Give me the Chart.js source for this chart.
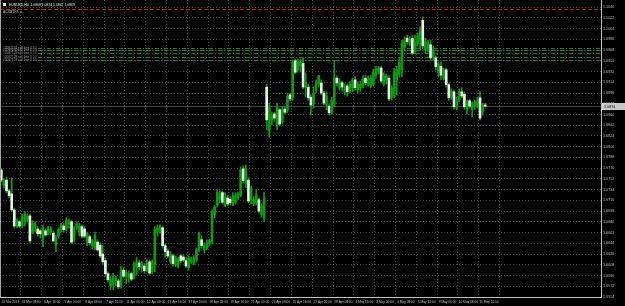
<!DOCTYPE html>
<html>
<head>
<meta charset="utf-8">
<script src="https://cdn.jsdelivr.net/npm/chart.js@4.4.0/dist/chart.umd.min.js"></script>
<style>
html, body { margin: 0; padding: 0; background: #000; }
#wrap { width: 625px; height: 306px; }
</style>
</head>
<body>
<div id="wrap"><canvas id="chart" width="625" height="306"></canvas></div>
<script>
// ==================== EURUSD H4 CANDLES ====================

const symbolTitle = 'EURUSD,H4  1.0868 1.0874 1.0862 1.0869';
const expertName = 'ACSBTF8 \u263A';

const timeLabels = ['28 Mar 2017', '31 Mar 08:00', '3 Apr 16:00', '5 Apr 00:00', '6 Apr 08:00', '7 Apr 16:00',
    '11 Apr 00:00', '12 Apr 08:00', '13 Apr 16:00', '17 Apr 00:00', '18 Apr 08:00', '19 Apr 16:00',
    '21 Apr 00:00', '24 Apr 08:00', '25 Apr 16:00', '27 Apr 00:00', '28 Apr 08:00', '1 May 16:00',
    '3 May 00:00', '4 May 08:00', '5 May 16:00', '9 May 00:00', '10 May 08:00', '11 May 16:00'];

const priceTicks = [1.1040, 1.1022, 1.1004, 1.0986, 1.0968, 1.0950, 1.0932, 1.0914, 1.0896, 1.0878,
    1.0860, 1.0842, 1.0824, 1.0806, 1.0788, 1.0770, 1.0752, 1.0734, 1.0716, 1.0698,
    1.0680, 1.0662, 1.0644, 1.0626, 1.0608, 1.0590, 1.0572, 1.0554];

const openPrices = [
    1.0767, 1.0740, 1.0750, 1.0732, 1.0727, 1.0700, 1.0673, 1.0680, 1.0673, 1.0680,
    1.0683, 1.0690, 1.0663, 1.0670, 1.0668, 1.0665, 1.0650, 1.0665, 1.0660, 1.0663,
    1.0661, 1.0641, 1.0656, 1.0667, 1.0673, 1.0668, 1.0677, 1.0680, 1.0650, 1.0670,
    1.0663, 1.0672, 1.0668, 1.0645, 1.0655, 1.0640, 1.0636, 1.0646, 1.0641, 1.0626,
    1.0615, 1.0593, 1.0573, 1.0574, 1.0579, 1.0581, 1.0573, 1.0599, 1.0588, 1.0586,
    1.0593, 1.0589, 1.0603, 1.0611, 1.0603, 1.0606, 1.0599, 1.0613, 1.0596, 1.0608,
    1.0663, 1.0667, 1.0670, 1.0640, 1.0631, 1.0613, 1.0623, 1.0608, 1.0606, 1.0623,
    1.0621, 1.0615, 1.0603, 1.0613, 1.0611, 1.0616, 1.0633, 1.0650, 1.0633, 1.0636,
    1.0643, 1.0646, 1.0692, 1.0708, 1.0717, 1.0729, 1.0708, 1.0720, 1.0718, 1.0710,
    1.0713, 1.0720, 1.0725, 1.0769, 1.0744, 1.0750, 1.0717, 1.0710, 1.0712, 1.0717,
    1.0692, 1.0687, 1.0906, 1.0834, 1.0851, 1.0861, 1.0843, 1.0868, 1.0848, 1.0869,
    1.0868, 1.0893, 1.0888, 1.0950, 1.0935, 1.0941, 1.0946, 1.0905, 1.0906, 1.0889,
    1.0878, 1.0901, 1.0911, 1.0913, 1.0896, 1.0876, 1.0874, 1.0864, 1.0878, 1.0921,
    1.0905, 1.0913, 1.0898, 1.0908, 1.0899, 1.0905, 1.0918, 1.0901, 1.0905, 1.0908,
    1.0921, 1.0911, 1.0908, 1.0911, 1.0926, 1.0931, 1.0938, 1.0911, 1.0918, 1.0921,
    1.0888, 1.0891, 1.0918, 1.0928, 1.0935, 1.0972, 1.0988, 1.0978, 1.0988, 1.0968,
    1.0978, 1.0985, 1.1018, 1.0968, 1.0972, 1.0977, 1.0956, 1.0955, 1.0931, 1.0941,
    1.0921, 1.0935, 1.0910, 1.0889, 1.0898, 1.0871, 1.0884, 1.0898, 1.0894, 1.0868,
    1.0883, 1.0868, 1.0874, 1.0876, 1.0888, 1.0864, 1.0876
];

const highPrices = [
    1.0770, 1.0752, 1.0755, 1.0735, 1.0754, 1.0703, 1.0685, 1.0683, 1.0693, 1.0698,
    1.0693, 1.0693, 1.0682, 1.0680, 1.0672, 1.0668, 1.0675, 1.0668, 1.0673, 1.0672,
    1.0665, 1.0658, 1.0670, 1.0678, 1.0677, 1.0687, 1.0685, 1.0683, 1.0673, 1.0680,
    1.0678, 1.0675, 1.0672, 1.0663, 1.0658, 1.0651, 1.0663, 1.0650, 1.0645, 1.0640,
    1.0620, 1.0596, 1.0589, 1.0594, 1.0589, 1.0584, 1.0605, 1.0603, 1.0599, 1.0598,
    1.0596, 1.0613, 1.0621, 1.0616, 1.0613, 1.0610, 1.0616, 1.0616, 1.0616, 1.0672,
    1.0675, 1.0675, 1.0673, 1.0643, 1.0635, 1.0630, 1.0626, 1.0623, 1.0621, 1.0626,
    1.0625, 1.0620, 1.0623, 1.0621, 1.0623, 1.0636, 1.0663, 1.0656, 1.0645, 1.0650,
    1.0651, 1.0700, 1.0708, 1.0734, 1.0732, 1.0732, 1.0729, 1.0724, 1.0722, 1.0729,
    1.0729, 1.0730, 1.0772, 1.0774, 1.0775, 1.0754, 1.0740, 1.0722, 1.0734, 1.0720,
    1.0710, 1.0729, 1.0911, 1.0879, 1.0864, 1.0864, 1.0879, 1.0871, 1.0874, 1.0874,
    1.0896, 1.0896, 1.0951, 1.0953, 1.0953, 1.0953, 1.0955, 1.0930, 1.0911, 1.0893,
    1.0906, 1.0918, 1.0926, 1.0918, 1.0899, 1.0898, 1.0878, 1.0889, 1.0951, 1.0925,
    1.0920, 1.0916, 1.0911, 1.0911, 1.0915, 1.0921, 1.0923, 1.0915, 1.0916, 1.0925,
    1.0926, 1.0925, 1.0926, 1.0936, 1.0941, 1.0941, 1.0941, 1.0930, 1.0928, 1.0925,
    1.0908, 1.0938, 1.0941, 1.0955, 1.0985, 1.0990, 1.0993, 1.0990, 1.0992, 1.0993,
    1.0997, 1.1007, 1.1024, 1.0988, 1.0985, 1.0985, 1.0975, 1.0958, 1.0948, 1.0948,
    1.0938, 1.0938, 1.0913, 1.0903, 1.0901, 1.0889, 1.0903, 1.0905, 1.0898, 1.0884,
    1.0886, 1.0881, 1.0884, 1.0889, 1.0898, 1.0879, 1.0879
];

const lowPrices = [
    1.0747, 1.0737, 1.0729, 1.0720, 1.0697, 1.0670, 1.0670, 1.0670, 1.0670, 1.0673,
    1.0680, 1.0645, 1.0660, 1.0663, 1.0656, 1.0653, 1.0638, 1.0656, 1.0658, 1.0658,
    1.0646, 1.0630, 1.0653, 1.0663, 1.0663, 1.0665, 1.0670, 1.0643, 1.0646, 1.0667,
    1.0656, 1.0653, 1.0653, 1.0640, 1.0641, 1.0635, 1.0633, 1.0631, 1.0620, 1.0608,
    1.0589, 1.0579, 1.0566, 1.0566, 1.0573, 1.0568, 1.0569, 1.0586, 1.0576, 1.0579,
    1.0581, 1.0584, 1.0591, 1.0599, 1.0596, 1.0594, 1.0596, 1.0591, 1.0593, 1.0596,
    1.0656, 1.0661, 1.0636, 1.0621, 1.0620, 1.0610, 1.0606, 1.0605, 1.0603, 1.0611,
    1.0613, 1.0603, 1.0599, 1.0610, 1.0608, 1.0613, 1.0630, 1.0636, 1.0628, 1.0633,
    1.0640, 1.0643, 1.0687, 1.0705, 1.0712, 1.0710, 1.0705, 1.0707, 1.0708, 1.0707,
    1.0710, 1.0717, 1.0722, 1.0745, 1.0737, 1.0712, 1.0710, 1.0707, 1.0708, 1.0695,
    1.0688, 1.0680, 1.0834, 1.0822, 1.0843, 1.0849, 1.0834, 1.0841, 1.0844, 1.0861,
    1.0863, 1.0883, 1.0884, 1.0928, 1.0931, 1.0931, 1.0903, 1.0889, 1.0884, 1.0859,
    1.0871, 1.0896, 1.0906, 1.0893, 1.0876, 1.0868, 1.0859, 1.0861, 1.0873, 1.0908,
    1.0901, 1.0899, 1.0893, 1.0891, 1.0896, 1.0898, 1.0901, 1.0896, 1.0899, 1.0905,
    1.0910, 1.0908, 1.0905, 1.0908, 1.0921, 1.0928, 1.0913, 1.0908, 1.0911, 1.0883,
    1.0884, 1.0888, 1.0893, 1.0923, 1.0923, 1.0968, 1.0978, 1.0975, 1.0960, 1.0962,
    1.0975, 1.0968, 1.0972, 1.0963, 1.0965, 1.0951, 1.0951, 1.0935, 1.0923, 1.0918,
    1.0918, 1.0906, 1.0884, 1.0886, 1.0869, 1.0868, 1.0881, 1.0888, 1.0869, 1.0861,
    1.0871, 1.0856, 1.0869, 1.0871, 1.0851, 1.0859, 1.0873
];

const closePrices = [
    1.0750, 1.0749, 1.0732, 1.0724, 1.0700, 1.0673, 1.0682, 1.0673, 1.0688, 1.0693,
    1.0690, 1.0648, 1.0677, 1.0677, 1.0660, 1.0660, 1.0670, 1.0658, 1.0670, 1.0668,
    1.0648, 1.0653, 1.0667, 1.0675, 1.0667, 1.0683, 1.0682, 1.0646, 1.0670, 1.0677,
    1.0673, 1.0656, 1.0656, 1.0660, 1.0645, 1.0648, 1.0658, 1.0633, 1.0623, 1.0613,
    1.0593, 1.0583, 1.0584, 1.0589, 1.0586, 1.0571, 1.0599, 1.0589, 1.0596, 1.0593,
    1.0584, 1.0608, 1.0613, 1.0605, 1.0610, 1.0598, 1.0611, 1.0594, 1.0613, 1.0667,
    1.0670, 1.0672, 1.0640, 1.0630, 1.0623, 1.0626, 1.0610, 1.0620, 1.0618, 1.0615,
    1.0616, 1.0606, 1.0620, 1.0618, 1.0620, 1.0633, 1.0660, 1.0640, 1.0641, 1.0645,
    1.0648, 1.0697, 1.0705, 1.0730, 1.0727, 1.0713, 1.0722, 1.0710, 1.0712, 1.0724,
    1.0724, 1.0727, 1.0767, 1.0749, 1.0770, 1.0715, 1.0737, 1.0718, 1.0725, 1.0698,
    1.0707, 1.0720, 1.0851, 1.0871, 1.0859, 1.0854, 1.0874, 1.0844, 1.0868, 1.0864,
    1.0891, 1.0886, 1.0948, 1.0931, 1.0948, 1.0948, 1.0906, 1.0915, 1.0888, 1.0876,
    1.0896, 1.0915, 1.0925, 1.0896, 1.0879, 1.0891, 1.0863, 1.0884, 1.0921, 1.0913,
    1.0915, 1.0906, 1.0908, 1.0898, 1.0911, 1.0918, 1.0905, 1.0911, 1.0911, 1.0920,
    1.0913, 1.0920, 1.0921, 1.0931, 1.0938, 1.0938, 1.0916, 1.0926, 1.0925, 1.0886,
    1.0905, 1.0931, 1.0935, 1.0948, 1.0980, 1.0985, 1.0982, 1.0987, 1.0963, 1.0982,
    1.0992, 1.1002, 1.0975, 1.0982, 1.0982, 1.0955, 1.0968, 1.0940, 1.0945, 1.0926,
    1.0935, 1.0910, 1.0888, 1.0899, 1.0873, 1.0883, 1.0899, 1.0891, 1.0873, 1.0881,
    1.0874, 1.0878, 1.0881, 1.0883, 1.0854, 1.0876, 1.0874
];

// pending orders drawn as dashed green levels, take profit level in red
const orderPrices = [1.0972, 1.0968, 1.0963, 1.0957, 1.0951];
const orderLabels = ['#2087531 sell limit 0.10', '#2087530 sell limit 0.10', '#2087529 sell limit 0.10',
    '#2087528 sell limit 0.10', '#2087527 sell limit 0.10'];
const tpPrice = 1.1037;

const totalSlots = 231;   // visible bar slots incl. chart shift on the right
const bidPrice = closePrices[closePrices.length - 1];

const GREEN = '#0f9a0f';
const BEAR_BODY = '#e4fbe4';
const GRID = '#34443f';
const AXIS_TEXT = '#bdbdbd';
const FONT = 'Liberation Sans, Arial, sans-serif';

const wickData = openPrices.map((o, i) => ({ x: i, y: [lowPrices[i], highPrices[i]] }));
const bodyData = openPrices.map((o, i) => ({ x: i, y: [o, closePrices[i]] }));
const bodyColors = openPrices.map((o, i) => closePrices[i] < o ? BEAR_BODY : GREEN);

// no label overhang padding: the plot fills the window like the terminal does
const noPadding = scale => {
    scale.paddingTop = 0;
    scale.paddingBottom = 0;
    scale.paddingLeft = 0;
    scale.paddingRight = 0;
};

const terminalPlugin = {
    id: 'terminal',
    beforeDraw(chart) {
        const ctx = chart.ctx;
        ctx.save();
        ctx.fillStyle = '#000';
        ctx.fillRect(0, 0, chart.width, chart.height);
        ctx.restore();
    },
    beforeDatasetsDraw(chart) {
        const ctx = chart.ctx;
        const ya = chart.scales.y;
        const area = chart.chartArea;
        ctx.save();

        // bid line
        let y = Math.round(ya.getPixelForValue(bidPrice)) + 0.5;
        ctx.strokeStyle = '#3a4848';
        ctx.lineWidth = 1;
        ctx.beginPath();
        ctx.moveTo(area.left, y);
        ctx.lineTo(area.right, y);
        ctx.stroke();

        // take profit
        y = Math.round(ya.getPixelForValue(tpPrice)) + 0.5;
        ctx.strokeStyle = '#b02020';
        ctx.setLineDash([4, 2]);
        ctx.beginPath();
        ctx.moveTo(area.left, y);
        ctx.lineTo(area.right, y);
        ctx.stroke();

        // pending orders
        ctx.strokeStyle = '#0c8a0c';
        ctx.setLineDash([4, 2, 1, 2]);
        orderPrices.forEach(p => {
            const yy = Math.round(ya.getPixelForValue(p)) + 0.5;
            ctx.beginPath();
            ctx.moveTo(area.left + 38, yy);
            ctx.lineTo(area.right, yy);
            ctx.stroke();
        });
        ctx.restore();
    },
    afterDraw(chart) {
        const ctx = chart.ctx;
        const ya = chart.scales.y;
        const area = chart.chartArea;
        ctx.save();

        // left frame edge
        ctx.strokeStyle = '#a0a0a0';
        ctx.lineWidth = 1;
        ctx.beginPath();
        ctx.moveTo(0.5, area.top);
        ctx.lineTo(0.5, area.bottom);
        ctx.stroke();

        // header
        ctx.fillStyle = '#e8e8e8';
        ctx.fillRect(3, 3, 3, 3);
        ctx.font = '3.4px ' + FONT;
        ctx.textBaseline = 'middle';
        ctx.fillText(symbolTitle, 9, 5);
        ctx.fillStyle = '#bdbdbd';
        ctx.fillText(expertName, 3, 12);

        // order labels
        ctx.fillStyle = '#9c9c9c';
        ctx.font = '3.2px ' + FONT;
        orderPrices.forEach((p, i) => {
            ctx.fillText(orderLabels[i], 3, ya.getPixelForValue(p));
        });

        // bid price box on the scale
        const by = Math.round(ya.getPixelForValue(bidPrice));
        ctx.fillStyle = '#c8c8c8';
        ctx.fillRect(area.right + 1, by - 3, chart.width - area.right - 1, 7);
        ctx.fillStyle = '#000';
        ctx.font = '3.7px ' + FONT;
        ctx.fillText(bidPrice.toFixed(4), area.right + 3, by + 0.5);
        ctx.restore();
    }
};

new Chart(document.getElementById('chart'), {
    type: 'bar',
    data: {
        datasets: [
            {
                label: 'wick',
                data: wickData,
                backgroundColor: GREEN,
                barThickness: 1,
                grouped: false,
                order: 2
            },
            {
                label: 'body',
                data: bodyData,
                backgroundColor: bodyColors,
                barThickness: 2,
                minBarLength: 1,
                grouped: false,
                order: 1
            }
        ]
    },
    options: {
        responsive: false,
        animation: false,
        devicePixelRatio: 1,
        layout: { padding: 0 },
        plugins: {
            legend: { display: false },
            tooltip: { enabled: false }
        },
        scales: {
            x: {
                type: 'linear',
                offset: false,
                min: -0.5,
                max: totalSlots - 0.5,
                grid: { color: GRID, lineWidth: 1, drawTicks: false },
                border: { display: true, color: '#c0c0c0', dash: [1, 2] },
                afterBuildTicks: scale => {
                    scale.ticks = timeLabels.map((t, k) => ({ value: 3.5 + k * 8 }));
                },
                afterFit: scale => {
                    scale.height = 9;
                    noPadding(scale);
                },
                ticks: {
                    autoSkip: false,
                    maxRotation: 0,
                    minRotation: 0,
                    padding: 3,
                    color: AXIS_TEXT,
                    font: { size: 3.2, family: FONT },
                    callback: (v, idx) => timeLabels[idx]
                }
            },
            y: {
                position: 'right',
                min: 1.0554,
                max: 1.1052,
                grid: { color: GRID, lineWidth: 1, drawTicks: false },
                border: { display: true, color: '#c0c0c0', dash: [1, 2] },
                afterBuildTicks: scale => {
                    scale.ticks = priceTicks.map(v => ({ value: v }));
                },
                afterFit: scale => {
                    scale.width = 24;
                    noPadding(scale);
                },
                ticks: {
                    autoSkip: false,
                    padding: 2,
                    crossAlign: 'near',
                    color: AXIS_TEXT,
                    font: { size: 3.7, family: FONT },
                    callback: v => Number(v).toFixed(4)
                }
            }
        }
    },
    plugins: [terminalPlugin]
});
</script>
</body>
</html>
